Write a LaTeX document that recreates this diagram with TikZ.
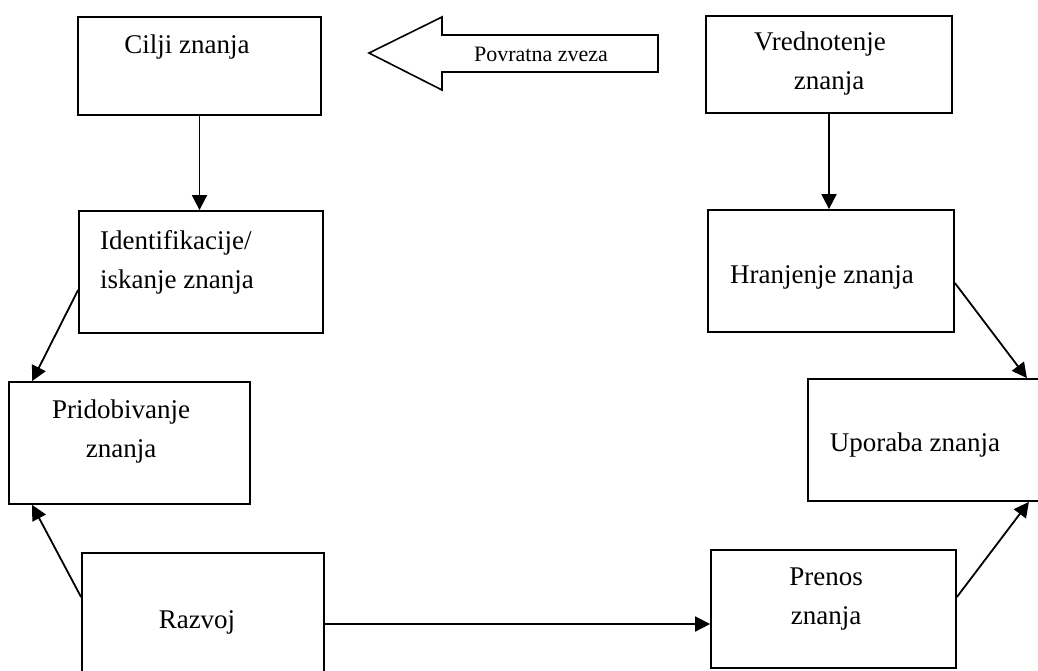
\documentclass[tikz,border=0pt]{standalone}
\usepackage{fontspec}
\setmainfont{Liberation Serif}
\usepackage{tikz}
\usetikzlibrary{positioning, arrows.meta, calc}
\tikzset{
  kbox/.style={draw, line width=1.8pt, inner sep=0pt},
  ktext/.style={font=\fontsize{27}{39}\selectfont, inner sep=0pt},
  flow/.style={-{Triangle[length=15pt, width=15pt]}, line width=1.8pt}
}

\begin{document}
\begin{tikzpicture}[x=1pt, y=-1pt]
        \useasboundingbox (0,0) rectangle (1038,670);
        \clip (0,0) rectangle (1038,670);
        % boxes
        \node[kbox, minimum width=243pt, minimum height=98pt]  (cilji)  at (199.5, 66)  {};
        \node[kbox, minimum width=244pt, minimum height=122pt] (ident)  at (201, 272)   {};
        \node[kbox, minimum width=241pt, minimum height=122pt] (pridob) at (129.5, 443) {};
        \node[kbox, minimum width=242pt, minimum height=142pt] (razvoj) at (203, 624)   {};
        \node[kbox, minimum width=246pt, minimum height=97pt]  (vred)   at (829, 64.5)  {};
        \node[kbox, minimum width=246pt, minimum height=122pt] (hran)   at (831, 271)   {};
        \node[kbox, minimum width=232pt, minimum height=122pt] (upor)   at (924, 440)   {};
        \node[kbox, minimum width=245pt, minimum height=118pt] (prenos) at (833.5, 609) {};
        % texts
        \node[ktext] (cilji-t)  at (187, 47)  {Cilji znanja};
        \node[ktext, align=left, anchor=west] (ident-t) at (100, 262) {Identifikacije/\\iskanje znanja};
        \node[ktext, align=center] (pridob-t) at (121, 431) {Pridobivanje\\znanja};
        \node[ktext] (razvoj-t) at (197, 622) {Razvoj};
        \node[ktext, align=center] (vred-t) at (820, 64) {Vrednotenje\\\hspace*{18pt}znanja};
        \node[ktext] (hran-t)   at (822, 277) {Hranjenje znanja};
        \node[ktext] (upor-t)   at (915, 445) {Uporaba znanja};
        \node[ktext, align=center] (prenos-t) at (826, 599) {Prenos\\znanja};
        % feedback arrow
        \draw[line width=1.6pt, line join=miter] (369,53) -- (442,17) -- (442,35) -- (658,35)
              -- (658,72) -- (442,72) -- (442,90) -- cycle;
        \node[font=\fontsize{22}{26}\selectfont, inner sep=0pt] (zveza) at (541, 54) {Povratna zveza};
        % connectors
        \draw[flow] (cilji.south) -- (cilji.south |- ident.north);
        \draw[flow] (vred.south) -- (vred.south |- hran.north);
        \draw[flow] ([yshift=-18pt]ident.west) -- ([xshift=24pt]pridob.north west);
        \draw[flow] ([yshift=-45pt]razvoj.north west) -- ([xshift=24pt]pridob.south west);
        \draw[flow] (razvoj.east) -- (razvoj.east -| prenos.west);
        \draw[flow] ([yshift=-12pt]hran.east) -- ([xshift=-14pt]upor.north east);
        \draw[flow] ([yshift=12pt]prenos.east) -- ([xshift=-12pt]upor.south east);
      \end{tikzpicture}
\end{document}
